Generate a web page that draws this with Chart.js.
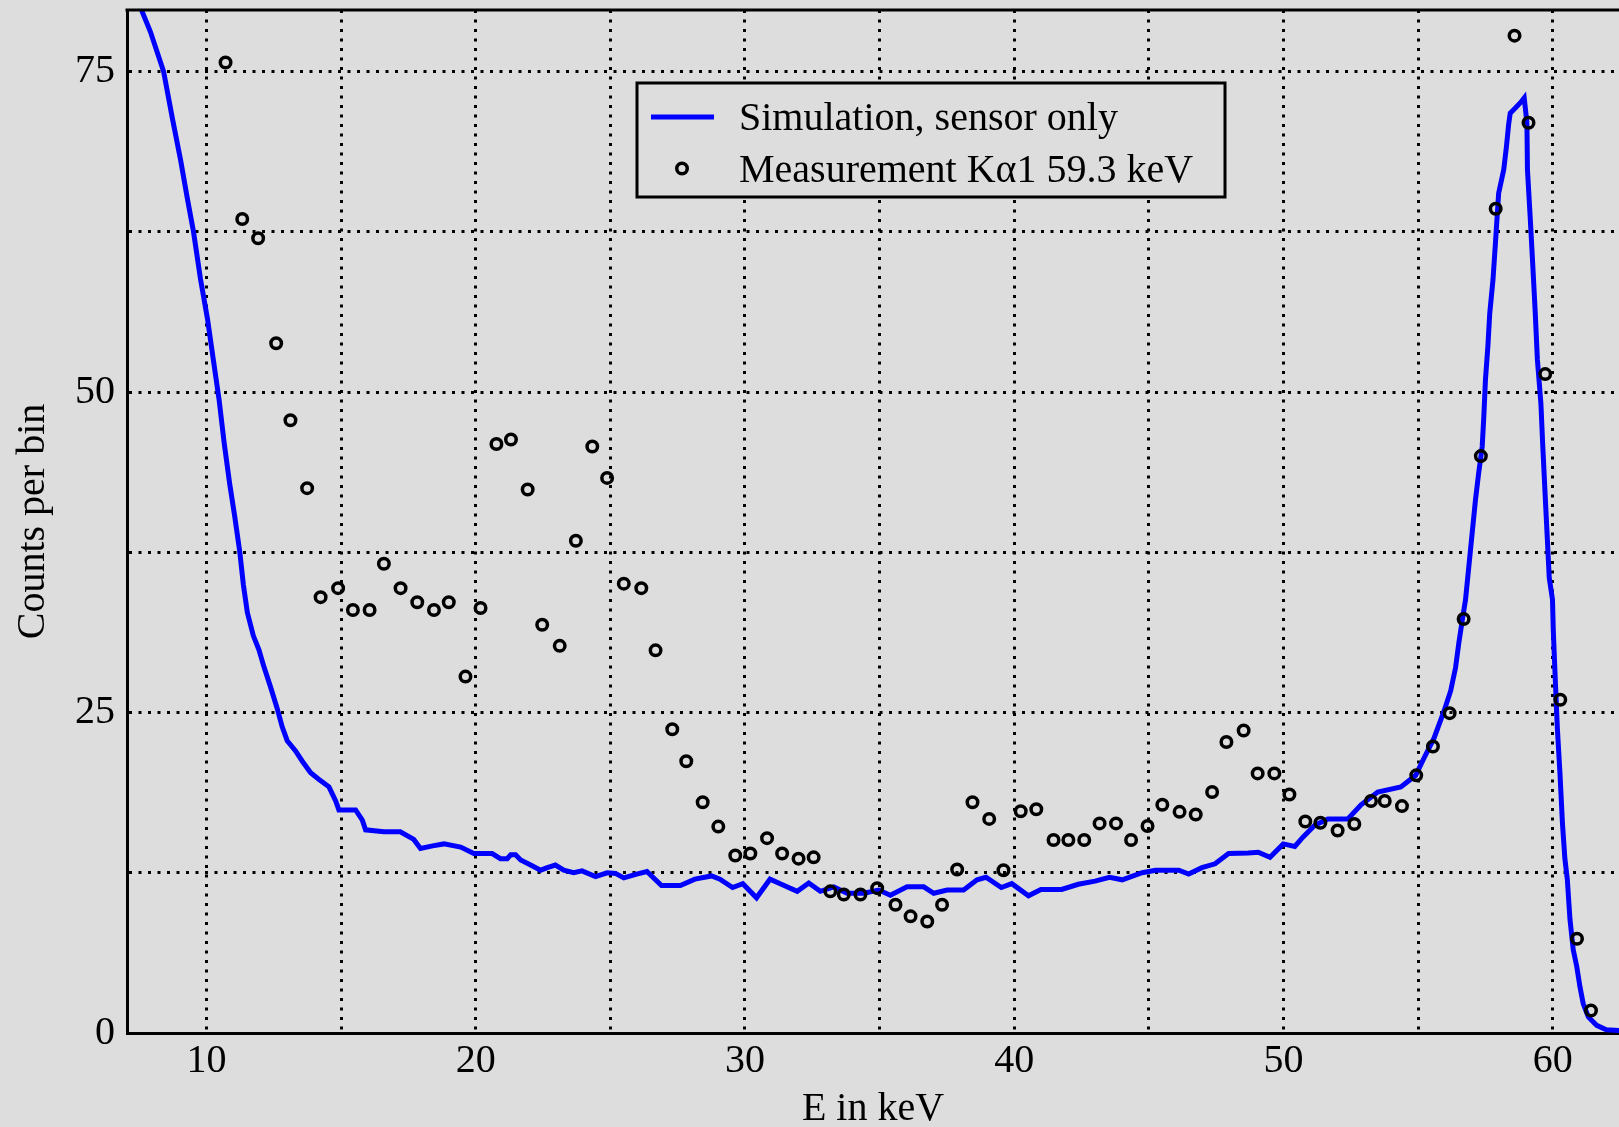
<!DOCTYPE html>
<html>
<head>
<meta charset="utf-8">
<title>Counts per bin</title>
<script src="https://cdn.jsdelivr.net/npm/chart.js@4.4.0/dist/chart.umd.min.js"></script>
<style>
  html, body { margin: 0; padding: 0; background: #dddddd; overflow: hidden; }
  .chart-box { width: 1619px; height: 1127px; }
</style>
</head>
<body>
<div class="chart-box"><canvas id="spectrum"></canvas></div>
<script>
// Simulation curve (sensor only)
const simEnergy = [
  7.40, 7.55, 7.92, 8.41, 8.74, 9.04, 9.30, 9.52, 9.78, 10.04,
  10.23, 10.47, 10.66, 10.86, 11.05, 11.24, 11.37, 11.52, 11.74, 11.95,
  12.13, 12.38, 12.63, 12.81, 13.00, 13.31, 13.56, 13.87, 14.17, 14.55,
  14.80, 14.92, 15.54, 15.79, 15.91, 16.59, 17.20, 17.70, 17.95, 18.40,
  18.82, 19.44, 19.93, 20.61, 20.92, 21.17, 21.30, 21.48, 21.67, 22.04,
  22.41, 22.66, 22.96, 23.27, 23.64, 23.95, 24.45, 24.88, 25.19, 25.50,
  25.98, 26.36, 26.90, 27.60, 28.14, 28.76, 29.07, 29.54, 29.92, 30.43,
  30.93, 31.35, 31.94, 32.37, 32.80, 33.30, 33.79, 34.41, 34.97, 35.40,
  36.02, 36.64, 37.01, 37.51, 38.12, 38.62, 38.95, 39.52, 39.91, 40.53,
  40.99, 41.76, 42.38, 43.00, 43.54, 44.01, 44.75, 45.25, 46.11, 46.48,
  46.97, 47.46, 47.96, 48.69, 49.06, 49.50, 49.99, 50.42, 50.73, 51.16,
  51.65, 52.39, 52.88, 53.50, 54.36, 54.91, 55.22, 55.59, 55.96, 56.21,
  56.39, 56.51, 56.64, 56.76, 56.95, 57.13, 57.25, 57.38, 57.44, 57.50,
  57.59, 57.66, 57.78, 57.87, 57.99, 58.18, 58.28, 58.36, 58.42, 58.61,
  58.79, 58.94, 59.04, 59.06, 59.16, 59.26, 59.35, 59.43, 59.56, 59.63,
  59.72, 59.87, 59.99, 60.02, 60.09, 60.17, 60.27, 60.36, 60.45, 60.54,
  60.64, 60.76, 60.89, 61.01, 61.13, 61.32, 61.63, 61.99, 62.45, 62.60
];
const simCounts = [
  81.5, 80.0, 78.1, 75.0, 71.3, 68.1, 65.0, 62.5, 58.8, 55.7,
  52.9, 49.4, 46.0, 42.9, 40.3, 37.5, 35.0, 32.8, 31.0, 29.9,
  28.6, 27.0, 25.3, 23.9, 22.8, 22.0, 21.2, 20.3, 19.8, 19.2,
  18.1, 17.4, 17.4, 16.6, 15.85, 15.7, 15.7, 15.1, 14.4, 14.6,
  14.75, 14.5, 14.0, 14.0, 13.6, 13.6, 13.9, 13.9, 13.5, 13.1,
  12.7, 12.9, 13.1, 12.7, 12.5, 12.65, 12.2, 12.5, 12.45, 12.1,
  12.4, 12.6, 11.5, 11.5, 12.0, 12.25, 12.0, 11.35, 11.65, 10.55,
  12.0, 11.6, 11.05, 11.7, 11.05, 11.4, 10.9, 10.9, 11.15, 10.75,
  11.4, 11.4, 10.9, 11.15, 11.15, 11.95, 12.15, 11.35, 11.65, 10.7,
  11.2, 11.2, 11.6, 11.85, 12.15, 11.95, 12.5, 12.7, 12.7, 12.4,
  12.9, 13.2, 14.0, 14.05, 14.1, 13.7, 14.75, 14.55, 15.3, 16.2,
  16.7, 16.7, 17.8, 18.8, 19.2, 20.1, 21.45, 23.0, 25.1, 26.7,
  28.5, 30.4, 32.2, 33.8, 37.8, 41.6, 43.7, 45.75, 48.1, 50.95,
  53.55, 56.15, 58.75, 61.6, 65.5, 67.35, 69.15, 70.85, 71.75, 72.15,
  72.55, 72.95, 71.0, 67.35, 63.7, 59.8, 56.15, 52.5, 49.1, 45.75,
  41.85, 35.5, 33.8, 31.4, 27.75, 23.8, 20.15, 16.35, 13.6, 12.0,
  8.85, 6.5, 5.2, 3.6, 2.3, 1.25, 0.6, 0.25, 0.2, 0.15
];

// Measurement K-alpha1 59.3 keV
const measEnergy = [
  10.71, 11.33, 11.92, 12.59, 13.12, 13.74, 14.24, 14.89, 15.44, 16.06,
  16.59, 17.21, 17.83, 18.45, 19.00, 19.62, 20.18, 20.77, 21.31, 21.93,
  22.47, 23.12, 23.72, 24.33, 24.88, 25.50, 26.15, 26.68, 27.30, 27.82,
  28.43, 29.01, 29.64, 30.20, 30.82, 31.38, 31.99, 32.55, 33.17, 33.67,
  34.29, 34.91, 35.59, 36.15, 36.77, 37.32, 37.88, 38.45, 39.07, 39.60,
  40.24, 40.82, 41.46, 42.01, 42.60, 43.17, 43.78, 44.34, 44.95, 45.50,
  46.14, 46.74, 47.35, 47.88, 48.52, 49.04, 49.66, 50.22, 50.81, 51.37,
  52.01, 52.63, 53.25, 53.76, 54.40, 54.93, 55.55, 56.17, 56.69, 57.33,
  57.88, 58.58, 59.10, 59.72, 60.28, 60.90, 61.42
];
const measCounts = [
  75.7, 63.5, 62.0, 53.8, 47.8, 42.5, 34.0, 34.7, 33.0, 33.0,
  36.6, 34.7, 33.6, 33.0, 33.6, 27.8, 33.15, 45.95, 46.3, 42.4,
  31.85, 30.2, 38.4, 45.75, 43.3, 35.05, 34.7, 29.85, 23.7, 21.2,
  18.0, 16.1, 13.85, 14.0, 15.2, 14.0, 13.6, 13.7, 11.05, 10.8,
  10.8, 11.3, 10.0, 9.1, 8.7, 10.0, 12.75, 18.0, 16.7, 12.7,
  17.3, 17.45, 15.05, 15.05, 15.05, 16.35, 16.35, 15.05, 16.15, 17.8,
  17.25, 17.05, 18.8, 22.7, 23.6, 20.25, 20.25, 18.6, 16.5, 16.4,
  15.8, 16.3, 18.1, 18.1, 17.7, 20.1, 22.35, 24.95, 32.3, 45.0,
  64.3, 77.8, 71.0, 51.4, 26.0, 7.35, 1.75
];

// Grid lines and labelled ticks
const xGridValues = [10, 15, 20, 25, 30, 35, 40, 45, 50, 55, 60];
const xTickLabels = [10, 20, 30, 40, 50, 60];
const yGridValues = [0, 12.5, 25, 37.5, 50, 62.5, 75];
const yTickLabels = [0, 25, 50, 75];

const serif = "'Liberation Serif', 'DejaVu Serif', serif";
const bgColor = '#dddddd';

// Legend box and top frame line
const framePlugin = {
  id: 'frame',
  afterDraw(chart) {
    const { ctx, chartArea } = chart;
    ctx.save();
    ctx.strokeStyle = '#000';
    ctx.lineWidth = 3;
    ctx.beginPath();
    ctx.moveTo(chartArea.left - 1.5, chartArea.top);
    ctx.lineTo(chartArea.right, chartArea.top);
    ctx.stroke();

    const bx = chartArea.left + 510, by = chartArea.top + 73;
    const bw = 588, bh = 114;
    ctx.fillStyle = bgColor;
    ctx.fillRect(bx, by, bw, bh);
    ctx.strokeRect(bx, by, bw, bh);

    const sets = chart.data.datasets;
    const line = sets[1], meas = sets[0];

    ctx.strokeStyle = line.borderColor;
    ctx.lineWidth = line.borderWidth;
    ctx.beginPath();
    ctx.moveTo(bx + 14, by + 34);
    ctx.lineTo(bx + 77, by + 34);
    ctx.stroke();

    ctx.strokeStyle = meas.borderColor;
    ctx.lineWidth = meas.borderWidth;
    ctx.beginPath();
    ctx.arc(bx + 45, by + 85.5, meas.pointRadius, 0, Math.PI * 2);
    ctx.stroke();

    ctx.fillStyle = '#000';
    ctx.font = '40px ' + serif;
    ctx.textBaseline = 'alphabetic';
    ctx.fillText(line.label, bx + 102, by + 47);
    ctx.fillText(meas.label, bx + 102, by + 99);
    ctx.restore();
  }
};

const ctx = document.getElementById('spectrum').getContext('2d');

new Chart(ctx, {
  type: 'scatter',
  data: {
    datasets: [
      {
        label: 'Measurement K\u03b11 59.3 keV',
        data: measEnergy.map((x, i) => ({ x, y: measCounts[i] })),
        showLine: false,
        pointStyle: 'circle',
        pointRadius: 5.25,
        pointBorderWidth: 3.5,
        borderWidth: 3.5,
        borderColor: '#000',
        backgroundColor: 'rgba(0,0,0,0)',
        order: 0
      },
      {
        label: 'Simulation, sensor only',
        data: simEnergy.map((x, i) => ({ x, y: simCounts[i] })),
        showLine: true,
        pointRadius: 0,
        borderColor: '#0000ff',
        borderWidth: 5,
        tension: 0,
        order: 1
      }
    ]
  },
  options: {
    responsive: true,
    maintainAspectRatio: false,
    animation: false,
    layout: { autoPadding: false, padding: { top: 10, right: 0, left: 0, bottom: 0 } },
    plugins: {
      legend: { display: false },
      tooltip: { enabled: false }
    },
    scales: {
      x: {
        type: 'linear',
        min: 7.05,
        max: 62.46,
        afterBuildTicks: scale => {
          scale.ticks = xGridValues.map(v => ({ value: v }));
        },
        afterFit: scale => {
          scale.height = 94;
          scale.paddingLeft = 0;
          scale.paddingRight = 0;
        },
        grid: { color: '#000', lineWidth: 3, drawTicks: false },
        border: { display: true, color: '#000', width: 3, dash: [3, 6.5] },
        ticks: {
          autoSkip: false,
          maxRotation: 0,
          padding: 4,
          color: '#000',
          font: { family: serif, size: 40 },
          callback: v => xTickLabels.includes(v) ? String(v) : ''
        },
        title: {
          display: true,
          text: 'E in keV',
          color: '#000',
          font: { family: serif, size: 40, lineHeight: 0.9 },
          padding: 0
        }
      },
      y: {
        type: 'linear',
        min: 0,
        max: 79.8,
        afterBuildTicks: scale => {
          scale.ticks = yGridValues.map(v => ({ value: v }));
        },
        afterFit: scale => {
          scale.width = 127;
          scale.paddingTop = 0;
          scale.paddingBottom = 0;
        },
        grid: { color: '#000', lineWidth: 3, drawTicks: false },
        border: { display: true, color: '#000', width: 3, dash: [3, 6.5] },
        ticks: {
          autoSkip: false,
          padding: 12,
          color: '#000',
          font: { family: serif, size: 40 },
          callback: v => yTickLabels.includes(v) ? String(v) : ''
        },
        title: {
          display: true,
          text: 'Counts per bin',
          color: '#000',
          font: { family: serif, size: 40, lineHeight: 0.9 },
          padding: { top: 15, bottom: 0 }
        }
      }
    }
  },
  plugins: [framePlugin]
});
</script>
</body>
</html>
